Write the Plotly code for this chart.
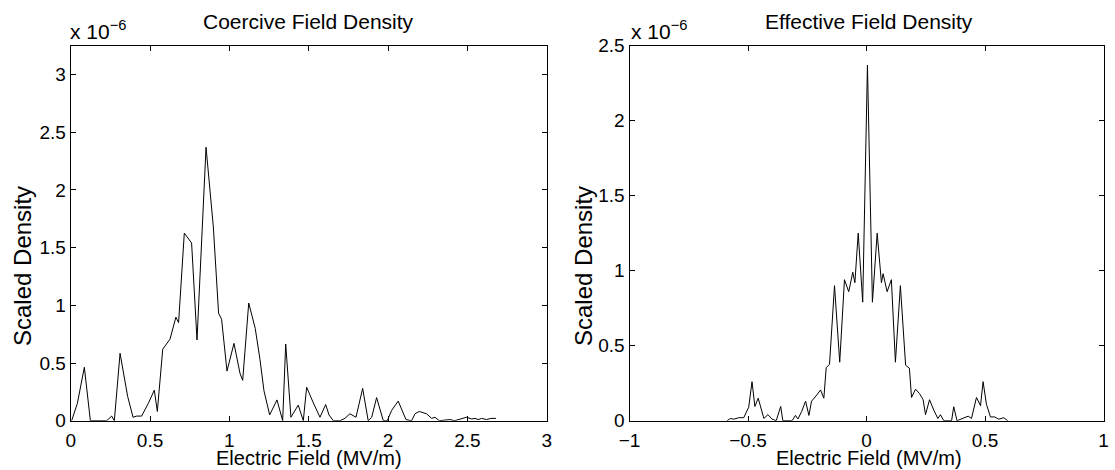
import plotly.graph_objects as go

# ---- Coercive field density (values in units of 1e-6) ----
coercive_field = [0.006, 0.042, 0.086, 0.124, 0.227, 0.258, 0.275, 0.311, 0.359, 0.393,
                  0.416, 0.447, 0.489, 0.527, 0.546, 0.580, 0.626, 0.663, 0.680, 0.716,
                  0.762, 0.796, 0.853, 0.899, 0.932, 0.951, 0.985, 1.029, 1.067, 1.084,
                  1.122, 1.163, 1.193, 1.218, 1.254, 1.300, 1.336, 1.355, 1.388, 1.434,
                  1.466, 1.487, 1.529, 1.571, 1.607, 1.628, 1.655, 1.697, 1.728, 1.760,
                  1.798, 1.840, 1.875, 1.897, 1.928, 1.970, 1.995, 2.023, 2.064, 2.113,
                  2.149, 2.170, 2.197, 2.243, 2.275, 2.296, 2.323, 2.390, 2.420, 2.495,
                  2.527, 2.548, 2.568, 2.590, 2.621, 2.648, 2.680]
coercive_density = [0.0, 0.15, 0.463, 0.0, 0.0, 0.04, 0.0, 0.584, 0.21, 0.03,
                    0.04, 0.04, 0.15, 0.265, 0.08, 0.62, 0.707, 0.897, 0.85, 1.626,
                    1.54, 0.70, 2.37, 1.68, 0.93, 0.88, 0.43, 0.67, 0.41, 0.35,
                    1.02, 0.80, 0.53, 0.26, 0.05, 0.18, 0.0, 0.665, 0.03, 0.135,
                    0.0, 0.29, 0.155, 0.03, 0.14, 0.05, 0.0, 0.0, 0.02, 0.06,
                    0.03, 0.28, 0.0, 0.03, 0.20, 0.0, 0.0, 0.09, 0.17, 0.01,
                    0.0, 0.06, 0.08, 0.06, 0.02, 0.03, 0.0, 0.01, 0.0, 0.03,
                    0.015, 0.02, 0.01, 0.02, 0.01, 0.02, 0.02]

# ---- Effective field density (values in units of 1e-6) ----
effective_field = [-0.588, -0.574, -0.560, -0.539, -0.518, -0.497, -0.483, -0.471, -0.457, -0.433,
                   -0.416, -0.398, -0.381, -0.362, -0.353, -0.314, -0.300, -0.289, -0.274, -0.257,
                   -0.243, -0.232, -0.213, -0.194, -0.180, -0.170, -0.156, -0.135, -0.113, -0.093,
                   -0.075, -0.058, -0.049, -0.035, -0.016, 0.004, 0.025, 0.045, 0.063, 0.070,
                   0.087, 0.105, 0.122, 0.143, 0.165, 0.181, 0.190, 0.207, 0.224, 0.239,
                   0.249, 0.266, 0.284, 0.301, 0.312, 0.326, 0.359, 0.368, 0.382, 0.415,
                   0.429, 0.443, 0.464, 0.481, 0.492, 0.506, 0.523, 0.541, 0.558, 0.579,
                   0.596]
effective_density = [0.0, 0.015, 0.01, 0.02, 0.02, 0.09, 0.26, 0.095, 0.15, 0.015,
                     0.04, 0.01, 0.0, 0.095, 0.0, 0.0, 0.035, 0.012, 0.06, 0.13,
                     0.035, 0.13, 0.165, 0.205, 0.15, 0.353, 0.376, 0.90, 0.39, 0.94,
                     0.86, 0.99, 0.92, 1.25, 0.79, 2.37, 0.79, 1.25, 0.92, 0.98,
                     0.86, 0.94, 0.39, 0.90, 0.37, 0.35, 0.155, 0.21, 0.18, 0.14,
                     0.04, 0.14, 0.07, 0.015, 0.04, 0.0, 0.0, 0.093, 0.0, 0.02,
                     0.03, 0.015, 0.155, 0.10, 0.26, 0.11, 0.025, 0.025, 0.01, 0.02,
                     0.0]

titles = ["Coercive Field Density", "Effective Field Density"]
x_label = "Electric Field (MV/m)"
y_label = "Scaled Density"
exp_label = "x 10<sup>\u22126</sup>"

W, H = 1115, 470
FONT = "Liberation Sans, Arial, Helvetica, sans-serif"
TICK_SIZE = 19
LABEL_SIZE = 21


def px(x):
    return x / W


def py(y):
    return 1 - y / H


fig = go.Figure()
fig.add_trace(go.Scatter(x=coercive_field, y=coercive_density, mode="lines",
                         line=dict(color="black", width=1), xaxis="x", yaxis="y",
                         showlegend=False, hoverinfo="skip"))
fig.add_trace(go.Scatter(x=effective_field, y=effective_density, mode="lines",
                         line=dict(color="black", width=1), xaxis="x2", yaxis="y2",
                         showlegend=False, hoverinfo="skip"))

axis_common = dict(showgrid=False, showline=True, linecolor="black", linewidth=1,
                   mirror="ticks", ticks="inside", ticklen=5, tickcolor="black",
                   tickwidth=1, automargin=False,
                   tickfont=dict(family=FONT, size=TICK_SIZE, color="black"))
x_common = dict(zeroline=False, ticklabelstandoff=2, **axis_common)
y_common = dict(zeroline=True, zerolinecolor="black", zerolinewidth=2, **axis_common)

top, bottom = 45.7, 420.7
fig.update_layout(
    width=W, height=H, autosize=False,
    margin=dict(l=0, r=0, t=0, b=0, pad=0),
    paper_bgcolor="white", plot_bgcolor="white",
    xaxis=dict(domain=[px(70.7), px(546.7)], range=[0, 3], tickvals=[0, 0.5, 1, 1.5, 2, 2.5, 3],
               anchor="y", **x_common),
    yaxis=dict(domain=[py(bottom), py(top)], range=[0, 3.25],
               tickvals=[0, 0.5, 1, 1.5, 2, 2.5, 3], anchor="x", **y_common),
    xaxis2=dict(domain=[px(629.5), px(1103.5)], range=[-1, 1],
                tickvals=[-1, -0.5, 0, 0.5, 1], anchor="y2", **x_common),
    yaxis2=dict(domain=[py(bottom), py(top)], range=[0, 2.5],
                tickvals=[0, 0.5, 1, 1.5, 2, 2.5], anchor="x2", **y_common),
)

ann = []
lab_font = dict(family=FONT, size=LABEL_SIZE, color="black")
xlab_font = dict(family=FONT, size=20, color="black")
ylab_font = dict(family=FONT, size=24, color="black")
exp_font = dict(family=FONT, size=21, color="black")
for title, cx in zip(titles, [308.0, 869.0]):
    ann.append(dict(text=title, x=px(cx), y=py(22), xref="paper", yref="paper",
                    xanchor="center", yanchor="middle", showarrow=False, font=lab_font))
for cx in [309.0, 868.5]:
    ann.append(dict(text=x_label, x=px(cx), y=py(458), xref="paper", yref="paper",
                    xanchor="center", yanchor="middle", showarrow=False, font=xlab_font))
for cx in [22, 583]:
    ann.append(dict(text=y_label, x=px(cx), y=py(266), xref="paper", yref="paper",
                    xanchor="center", yanchor="middle", textangle=-90,
                    showarrow=False, font=ylab_font))
for lx in [68.0, 629.0]:
    ann.append(dict(text=exp_label, x=px(lx), y=py(45), xref="paper", yref="paper",
                    xanchor="left", yanchor="bottom", showarrow=False, font=exp_font))
fig.update_layout(annotations=ann)

# remove the browser's default body margin so the 1115x470 figure fills the window
fig.write_html("out.html", config={"displayModeBar": False},
               post_script="document.body.style.margin='0';document.body.style.overflow='hidden';")
